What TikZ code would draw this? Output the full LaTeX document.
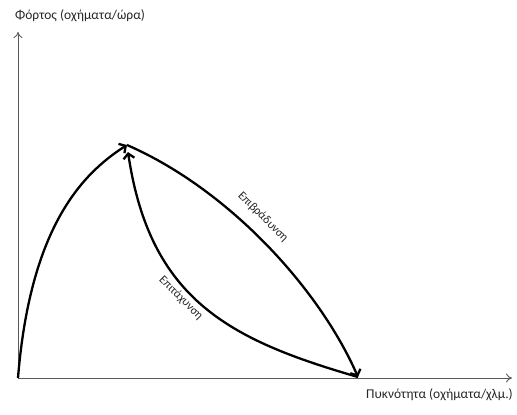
\documentclass[tikz,border=0pt]{standalone}
\usepackage{fontspec}
\setmainfont{Carlito}
\usetikzlibrary{arrows.meta}
\begin{document}
\begin{tikzpicture}[x=1bp,y=-1bp,
  axis/.style={draw=black!65, line width=0.9bp, -{To[length=6bp,width=9bp]}},
  flow/.style={draw=black, line width=2.3bp, -{Straight Barb[length=5bp,width=11bp]}},
  lbl/.style={font=\fontsize{13.5}{15}\selectfont, text=black!85, inner sep=0pt},
  curvelbl/.style={font=\fontsize{12}{14}\selectfont, text=black!85, inner sep=0pt, rotate=-45}]
  \useasboundingbox (0,0) rectangle (517,414);

  % axes
  \coordinate (O) at (18,378);
  \coordinate (xend) at (512,378);
  \coordinate (yend) at (18,32);
  \draw[axis] (O) -- (xend);
  \draw[axis] (O) -- (yend);
  \node[lbl, anchor=west] (ylab) at (15,16) {Φόρτος (οχήματα/ώρα)};
  \node[lbl, anchor=east] (xlab) at (513,395) {Πυκνότητα (οχήματα/χλμ.)};

  % characteristic points
  \coordinate (peak) at (127,145);
  \coordinate (peakb) at (128,152);
  \coordinate (jam) at (358,377);

  % loading branch
  \draw[flow] (O) .. controls (30,230) and (80,175) .. (peak);
  % deceleration branch
  \draw[flow] (peak) .. controls (230,190) and (320,290) .. (jam);
  % acceleration branch
  \draw[flow] (jam) .. controls (230,340) and (150,300) .. (peakb);

  \node[curvelbl] (dec) at (263,217) {Επιβράδυνση};
  \node[curvelbl] (acc) at (181,298) {Επιτάχυνση};
\end{tikzpicture}
\end{document}
